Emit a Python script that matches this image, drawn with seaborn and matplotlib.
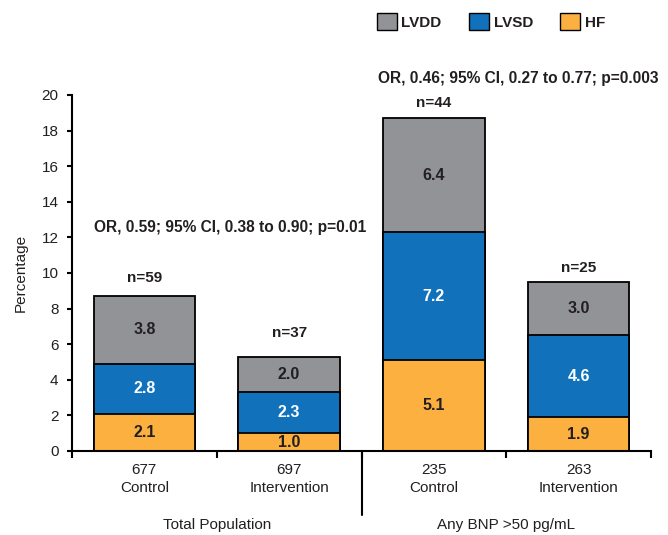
import matplotlib
matplotlib.use("Agg")
import matplotlib.pyplot as plt
from matplotlib.patches import Patch
from matplotlib.lines import Line2D
import matplotlib.transforms as mtransforms
import numpy as np
import pandas as pd
import seaborn as sns

# ---- data -------------------------------------------------------------
arms = ["677\nControl", "697\nIntervention", "235\nControl", "263\nIntervention"]
hf = [2.1, 1.0, 5.1, 1.9]
lvsd = [2.8, 2.3, 7.2, 4.6]
lvdd = [3.8, 2.0, 6.4, 3.0]
n_events = ["n=59", "n=37", "n=44", "n=25"]
groups = ["Total Population", "Any BNP >50 pg/mL"]
odds_ratios = ["OR, 0.59; 95% CI, 0.38 to 0.90; p=0.01",
               "OR, 0.46; 95% CI, 0.27 to 0.77; p=0.003"]
y_ticks = [0, 2, 4, 6, 8, 10, 12, 14, 16, 18, 20]

# ---- style ------------------------------------------------------------
sns.set_theme(style="white")
plt.rcParams["font.family"] = ["Liberation Sans", "DejaVu Sans"]
TXT = "#231f20"
C_LVDD, C_LVSD, C_HF = "#929396", "#1172bb", "#fbb040"
FS = 11

df = pd.DataFrame({"arm": arms, "hf": hf, "lvsd": lvsd, "lvdd": lvdd})
df["top_lvsd"] = df["hf"] + df["lvsd"]
df["top_lvdd"] = df["top_lvsd"] + df["lvdd"]

fig = plt.figure(figsize=(6.68, 5.35), dpi=100)
ax = fig.add_axes([72 / 668, 1 - 451 / 535, (651 - 72) / 668, (451 - 95) / 535])

# stacked bars: draw cumulative heights back to front
for col, c in [("top_lvdd", C_LVDD), ("top_lvsd", C_LVSD), ("hf", C_HF)]:
    sns.barplot(data=df, x="arm", y=col, color=c, width=0.7, edgecolor="black",
                linewidth=1.3, saturation=1, ax=ax, order=arms)

ax.set_xlim(-0.5, 3.5)
ax.set_ylim(0, 20)
ax.set_yticks(y_ticks)
ax.set_ylabel("Percentage", fontsize=FS, color=TXT, labelpad=10)
ax.set_xlabel("")

for s in ["top", "right"]:
    ax.spines[s].set_visible(False)
for s in ["left", "bottom"]:
    ax.spines[s].set_color("black")
    ax.spines[s].set_linewidth(1.5)

ax.tick_params(axis="y", direction="out", length=3.8, width=1.5, color="black",
               labelsize=FS, labelcolor=TXT, pad=6, left=True)
ax.set_xticks(range(len(arms)))
ax.set_xticklabels(arms, linespacing=1.35)
ax.set_xticks(np.arange(-0.5, len(arms)), minor=True)
ax.tick_params(axis="x", which="major", length=0, pad=9, labelsize=FS, labelcolor=TXT)
ax.tick_params(axis="x", which="minor", direction="out", length=5, width=1.5,
               color="black", bottom=True)

# segment value labels
VS = 11.5
for i in range(len(arms)):
    ax.text(i, hf[i] / 2, f"{hf[i]:.1f}", ha="center", va="center",
            fontsize=VS, fontweight="bold", color=TXT)
    ax.text(i, hf[i] + lvsd[i] / 2, f"{lvsd[i]:.1f}", ha="center", va="center",
            fontsize=VS, fontweight="bold", color="white")
    ax.text(i, hf[i] + lvsd[i] + lvdd[i] / 2, f"{lvdd[i]:.1f}", ha="center",
            va="center", fontsize=VS, fontweight="bold", color=TXT)

# event counts above each bar
n_gap = [1.0, 1.35, 0.85, 0.8]
for i in range(len(arms)):
    ax.text(i, df["top_lvdd"][i] + n_gap[i], n_events[i], ha="center",
            va="center", fontsize=FS, fontweight="bold", color=TXT)

# odds ratio annotations
ax.text(0.59, 12.55, odds_ratios[0], ha="center", va="center", fontsize=11.2,
        fontweight="bold", color=TXT, clip_on=False)
ax.text(2.58, 20.95, odds_ratios[1], ha="center", va="center", fontsize=11.2,
        fontweight="bold", color=TXT, clip_on=False)

# group labels and divider under the axis
trans = mtransforms.blended_transform_factory(ax.transData, ax.transAxes)
for gx, g in zip([0.5, 2.5], groups):
    ax.text(gx, -0.208, g, ha="center", va="center", fontsize=FS, color=TXT,
            transform=trans)
ax.add_line(Line2D([1.5, 1.5], [0, -0.18], transform=trans, color="black",
                   lw=1.5, clip_on=False))

# legend
handles = [Patch(facecolor=C_LVDD, edgecolor="black", linewidth=1),
           Patch(facecolor=C_LVSD, edgecolor="black", linewidth=1),
           Patch(facecolor=C_HF, edgecolor="black", linewidth=1)]
leg = fig.legend(handles, ["LVDD", "LVSD", "HF"], loc="center",
                 bbox_to_anchor=(0.735, 0.96), ncol=3, frameon=False,
                 handlelength=1.3, handleheight=1.3, handletextpad=0.3,
                 columnspacing=1.8, prop={"weight": "bold", "size": 11})
for t in leg.get_texts():
    t.set_color(TXT)

fig.savefig("out.png", dpi=100)
